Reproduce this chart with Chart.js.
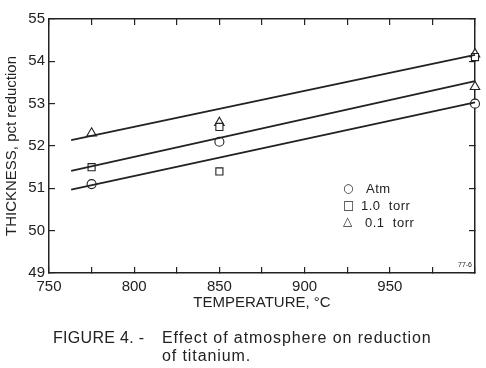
<!DOCTYPE html>
<html>
<head>
<meta charset="utf-8">
<script src="https://cdn.jsdelivr.net/npm/chart.js@4.4.1/dist/chart.umd.min.js"></script>
<style>
  body { margin: 0; background: #fff; }
  #wrap { position: relative; width: 486px; height: 368px; font-family: "Liberation Sans", Arial, sans-serif; color: #222; }
  .t { position: absolute; white-space: nowrap; }
  .leg { font-size: 13px; letter-spacing: 0.5px; }
  .sym { font-family: "DejaVu Sans", sans-serif; font-size: 12px; }
  .cap { font-size: 16px; letter-spacing: 0.9px; }
</style>
</head>
<body>
<div id="wrap">
  <canvas id="grafico" width="486" height="368"></canvas>
  <div class="t sym" style="left:343px; top:181px;">&#9675;</div>
  <div class="t leg" style="left:366px; top:181px;">Atm</div>
  <div class="t sym" style="left:343px; top:198px;">&#9633;</div>
  <div class="t leg" style="left:361px; top:198px;">1.0&nbsp; torr</div>
  <div class="t sym" style="left:343px; top:214px;">&#9651;</div>
  <div class="t leg" style="left:365px; top:215px;">0.1&nbsp; torr</div>
  <div class="t" style="left:458px; top:261px; font-size:7px;">77-6</div>
  <div class="t cap" style="left:53px; top:329px; letter-spacing:0.3px;">FIGURE 4. -</div>
  <div class="t cap" style="left:162px; top:329px;">Effect of atmosphere on reduction</div>
  <div class="t cap" style="left:162px; top:347px;">of titanium.</div>
</div>
<script>
// pontos medidos
const atmTemps = [775, 850, 1000];
const atmValues = [51.1, 52.1, 53.0];
const atmRepeatTemps = [775, 1000];
const atmRepeatValues = [51.1, 53.0];
const torr10Temps = [775, 850, 850, 1000];
const torr10Values = [51.5, 51.4, 52.45, 54.1];
const torr01Temps = [775, 850, 1000, 1000];
const torr01Values = [52.3, 52.55, 53.4, 54.17];

// retas ajustadas
const fitTemps = [763, 1000];
const fitAtm = [50.97, 53.03];
const fit10 = [51.41, 53.53];
const fit01 = [52.14, 54.15];

const xTicks = [750, 800, 850, 900, 950];
const yTicks = [49, 50, 51, 52, 53, 54, 55];

const tinta = "#222";

function pares(xs, ys) {
    return xs.map((x, i) => ({ x: x, y: ys[i] }));
}

function reta(xs, ys) {
    return {
        type: "line",
        data: pares(xs, ys),
        borderColor: tinta,
        borderWidth: 1.8,
        pointRadius: 0,
        fill: false,
        clip: false
    };
}

function pontos(xs, ys, estilo, raio) {
    return {
        type: "scatter",
        data: pares(xs, ys),
        pointStyle: estilo,
        pointRadius: raio,
        pointBorderColor: tinta,
        pointBackgroundColor: "#fff",
        pointBorderWidth: 1.1,
        clip: false
    };
}

const ctx = document.getElementById("grafico").getContext("2d");

new Chart(ctx, {
    data: {
        datasets: [
            reta(fitTemps, fitAtm),
            reta(fitTemps, fit10),
            reta(fitTemps, fit01),
            pontos(atmTemps, atmValues, "circle", 4.5),
            pontos(atmRepeatTemps, atmRepeatValues, "circle", 2),
            pontos(torr10Temps, torr10Values, "rect", 5),
            pontos(torr01Temps, torr01Values, "triangle", 5.5)
        ]
    },
    options: {
        responsive: false,
        animation: false,
        devicePixelRatio: 1,
        layout: { padding: { left: 0, right: 0, top: 0, bottom: 55 } },
        plugins: {
            legend: { display: false },
            tooltip: { enabled: false }
        },
        scales: {
            x: {
                type: "linear",
                position: "bottom",
                min: 750,
                max: 1000,
                ticks: {
                    stepSize: 25,
                    color: tinta,
                    font: { family: "Liberation Sans", size: 15 },
                    padding: 11,
                    maxRotation: 0,
                    callback: v => xTicks.includes(v) ? v : ""
                },
                grid: { drawOnChartArea: false, tickLength: -6, color: tinta, lineWidth: 1.2 },
                border: { color: tinta, width: 1.5 },
                title: {
                    display: true,
                    text: "TEMPERATURE, °C",
                    color: tinta,
                    font: { family: "Liberation Sans", size: 15 },
                    padding: { top: 0, bottom: 1 }
                },
                afterFit: s => { s.height = 40; }
            },
            x2: {
                type: "linear",
                position: "top",
                min: 750,
                max: 1000,
                ticks: { stepSize: 25, display: false },
                grid: { drawOnChartArea: false, tickLength: -6, color: tinta, lineWidth: 1.2 },
                border: { color: tinta, width: 1.5 },
                afterFit: s => { s.height = 18; }
            },
            y: {
                type: "linear",
                position: "left",
                min: 49,
                max: 55,
                ticks: {
                    stepSize: 1,
                    color: tinta,
                    font: { family: "Liberation Sans", size: 15 },
                    padding: 10,
                    callback: v => yTicks.includes(v) ? v : ""
                },
                grid: { drawOnChartArea: false, tickLength: -6, color: tinta, lineWidth: 1.2 },
                border: { color: tinta, width: 1.5 },
                title: {
                    display: true,
                    text: "THICKNESS, pct reduction",
                    color: tinta,
                    font: { family: "Liberation Sans", size: 15 },
                    padding: { top: 3, bottom: 0 }
                },
                afterFit: s => { s.width = 49; }
            },
            y2: {
                type: "linear",
                position: "right",
                min: 49,
                max: 55,
                ticks: { stepSize: 1, display: false },
                grid: { drawOnChartArea: false, tickLength: -6, color: tinta, lineWidth: 1.2 },
                border: { color: tinta, width: 1.5 },
                afterFit: s => { s.width = 5; }
            }
        }
    }
});
</script>
</body>
</html>
